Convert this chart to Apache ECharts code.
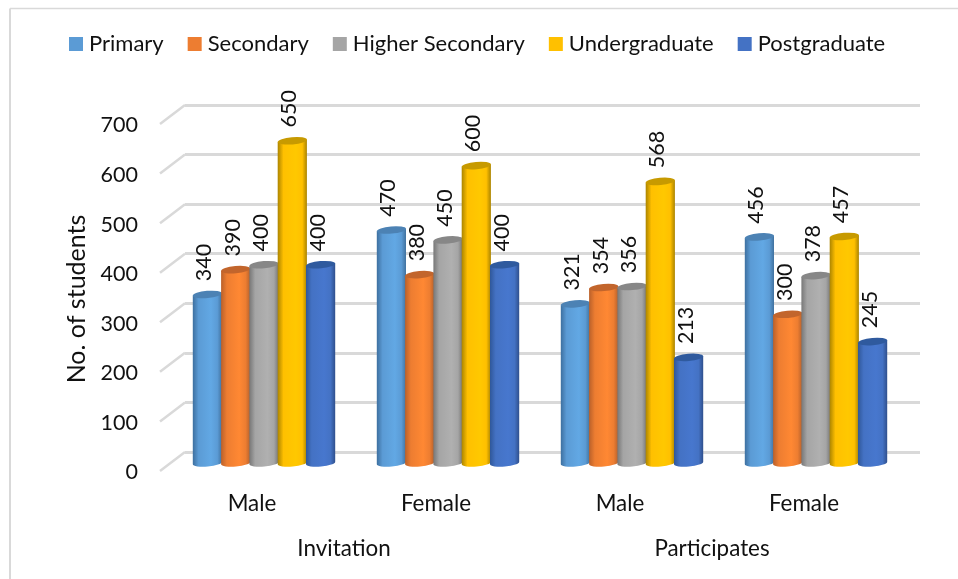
<!DOCTYPE html>
<html>
<head>
<meta charset="utf-8">
<style>html,body{margin:0;padding:0;background:#fff}#chart{width:958px;height:579px}</style>
<script src="https://cdn.jsdelivr.net/npm/echarts@6/dist/echarts.min.js"></script>
</head>
<body>
<div id="chart"></div>
<script>
// Students invited to and participating in the programme, by education level
const subCategories = ['Male', 'Female', 'Male', 'Female'];
const groups = ['Invitation', 'Participates'];
const primary = [340, 470, 321, 456];
const secondary = [390, 380, 354, 300];
const higherSecondary = [400, 450, 356, 378];
const undergraduate = [650, 600, 568, 457];
const postgraduate = [400, 400, 213, 245];
const gridTicks = [0, 100, 200, 300, 400, 500, 600, 700];

const FONT = 'Lato';
const TEXT = '#111111';
const barWidth = 29.2;
const barStep = 28.3;
const capRy = 3.6;
const tilt = 1.3;

const levels = [
  { name: 'Primary', values: primary, key: '#5b9bd5', edgeL: '#3d6f9f', mid: '#62a8e4', edgeR: '#40719e', cap: '#4c82b4' },
  { name: 'Secondary', values: secondary, key: '#ed7d31', edgeL: '#b9602a', mid: '#ff8833', edgeR: '#b3602c', cap: '#c2652c' },
  { name: 'Higher Secondary', values: higherSecondary, key: '#a5a5a5', edgeL: '#777777', mid: '#b0b0b0', edgeR: '#757575', cap: '#878787' },
  { name: 'Undergraduate', values: undergraduate, key: '#ffc000', edgeL: '#ab8400', mid: '#ffc800', edgeR: '#a98300', cap: '#c79a00' },
  { name: 'Postgraduate', values: postgraduate, key: '#4472c4', edgeL: '#2f5799', mid: '#4777ce', edgeR: '#2f4f8c', cap: '#2f5a9e' }
];

function cylinder(level, index) {
  return function (params, api) {
    const cat = api.value(0);
    const val = api.value(1);
    const top = api.coord([cat, val]);
    const base = api.coord([cat, 0]);
    const cx = top[0] + (index - 2) * barStep;
    const l = cx - barWidth / 2;
    const r = cx + barWidth / 2;
    const rx = barWidth / 2;
    const arc = rx + ' ' + capRy + ' -5 1 ';
    const body = 'M' + l + ' ' + (top[1] + tilt) + 'L' + l + ' ' + (base[1] + tilt) +
      'A' + arc + '0 ' + r + ' ' + (base[1] - tilt) +
      'L' + r + ' ' + (top[1] - tilt) + 'Z';
    const cap = 'M' + l + ' ' + (top[1] + tilt) +
      'A' + arc + '1 ' + r + ' ' + (top[1] - tilt) +
      'A' + arc + '1 ' + l + ' ' + (top[1] + tilt) + 'Z';
    return {
      type: 'group',
      children: [
        {
          type: 'path',
          shape: { pathData: body },
          style: {
            fill: {
              type: 'linear', x: 0, y: 0, x2: 1, y2: 0,
              colorStops: [
                { offset: 0, color: level.edgeL },
                { offset: 0.2, color: level.key },
                { offset: 0.62, color: level.mid },
                { offset: 0.84, color: level.key },
                { offset: 1, color: level.edgeR }
              ]
            }
          }
        },
        { type: 'path', shape: { pathData: cap }, style: { fill: level.cap } },
        {
          type: 'text',
          x: cx - 3,
          y: top[1] - 32,
          rotation: Math.PI / 2,
          z2: 100,
          style: {
            text: String(val),
            font: '21.5px ' + FONT,
            fill: TEXT,
            align: 'center',
            verticalAlign: 'middle'
          }
        }
      ]
    };
  };
}

// Short receding strokes that join the back wall lines to the front axis
function depthStroke(params, api) {
  const p = api.coord([0, api.value(0)]);
  const x = params.coordSys.x;
  return {
    type: 'line',
    shape: { x1: x, y1: p[1], x2: x - 25, y2: p[1] + 19 },
    style: { stroke: '#d9d9d9', lineWidth: 2.5 }
  };
}

const wallGrid = { left: 185, width: 735, top: 105, height: 347 };
const barGrid = { left: 172, width: 736, top: 116, height: 347 };
const frontGrid = { left: 160, width: 736, top: 125.5, height: 347 };

const hiddenY = { type: 'value', min: 0, max: 700, interval: 100, axisLine: { show: false }, axisTick: { show: false }, axisLabel: { show: false }, splitLine: { show: false } };
const hiddenX = { type: 'category', data: subCategories, axisLine: { show: false }, axisTick: { show: false }, axisLabel: { show: false } };

const option = {
  backgroundColor: '#ffffff',
  animation: false,
  graphic: [
    { type: 'line', silent: true, shape: { x1: 10, y1: 8.5, x2: 958, y2: 8.5 }, style: { stroke: '#d9d9d9', lineWidth: 1.5 } },
    { type: 'line', silent: true, shape: { x1: 10, y1: 8.5, x2: 10, y2: 579 }, style: { stroke: '#d9d9d9', lineWidth: 2 } }
  ],
  legend: {
    left: 64,
    top: 28,
    icon: 'rect',
    itemWidth: 14,
    itemHeight: 14,
    itemGap: 24,
    data: levels.map(l => l.name),
    textStyle: { fontFamily: FONT, fontSize: 22, color: TEXT, padding: [0, 0, 0, 1] }
  },
  grid: [wallGrid, barGrid, frontGrid],
  xAxis: [
    Object.assign({ gridIndex: 0 }, hiddenX),
    Object.assign({ gridIndex: 1 }, hiddenX),
    {
      gridIndex: 2,
      type: 'category',
      data: subCategories,
      axisLine: { show: false },
      axisTick: { show: false },
      axisLabel: { fontFamily: FONT, fontSize: 22.4, color: TEXT, margin: 20 }
    },
    {
      gridIndex: 2,
      type: 'category',
      position: 'bottom',
      data: groups,
      axisLine: { show: false },
      axisTick: { show: false },
      axisLabel: { fontFamily: FONT, fontSize: 22.4, color: TEXT, margin: 65 }
    }
  ],
  yAxis: [
    Object.assign({}, hiddenY, {
      gridIndex: 0,
      splitLine: { show: true, lineStyle: { color: '#d9d9d9', width: 3 } }
    }),
    Object.assign({ gridIndex: 1 }, hiddenY),
    {
      gridIndex: 2,
      type: 'value',
      min: 0,
      max: 700,
      interval: 100,
      name: 'No. of students',
      nameLocation: 'middle',
      nameGap: 66,
      nameTextStyle: { fontFamily: FONT, fontSize: 25, color: TEXT },
      axisLine: { show: false },
      axisTick: { show: false },
      splitLine: { show: false },
      axisLabel: { fontFamily: FONT, fontSize: 21.5, color: TEXT, margin: 22 }
    }
  ],
  series: [
    {
      type: 'custom',
      name: 'depth',
      xAxisIndex: 0,
      yAxisIndex: 0,
      silent: true,
      z: 1,
      encode: { y: 0 },
      data: gridTicks.map(v => [v]),
      renderItem: depthStroke
    }
  ].concat(levels.map((level, i) => ({
    type: 'custom',
    name: level.name,
    xAxisIndex: 1,
    yAxisIndex: 1,
    itemStyle: { color: level.key },
    encode: { x: 0, y: 1 },
    data: level.values.map((v, c) => [c, v]),
    renderItem: cylinder(level, i)
  })))
};

echarts.init(document.getElementById('chart'), null, { renderer: 'canvas' }).setOption(option);
</script>
</body>
</html>
